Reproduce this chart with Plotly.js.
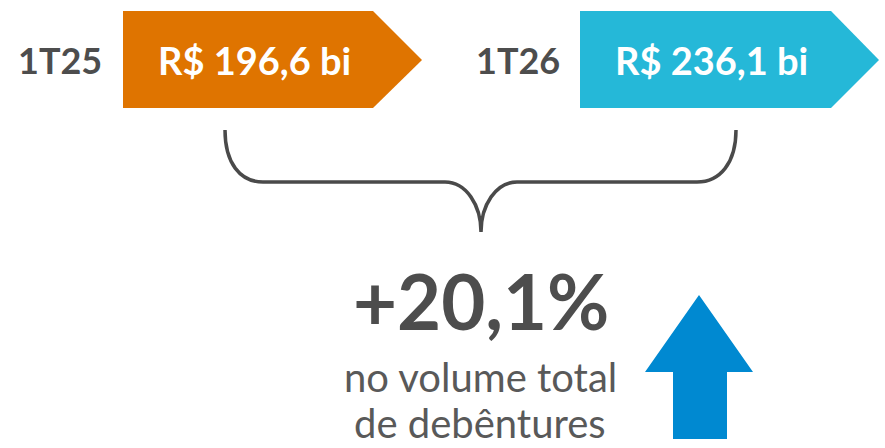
<!DOCTYPE html>
<html>
<head>
<meta charset="utf-8">
<script src="https://cdn.plot.ly/plotly-3.0.1.min.js"></script>
<style>
html,body{margin:0;padding:0;background:#ffffff;}
#chart{width:885px;height:448px;}
</style>
</head>
<body>
<div id="chart"></div>
<script>
// ---- data ----
var periods = ['1T25', '1T26'];
var volumes = [196.6, 236.1];           // R$ bilhões
var changePct = 20.1;                   // %
var captionLines = ['no volume total', 'de debêntures'];
var boxColors = ['#DF7400', '#25B8D8'];

function fmt(v) { return v.toFixed(1).replace('.', ','); }

var FONT = 'Lato, "Open Sans", sans-serif';
var DARK = '#4D4D4D';

// layout geometry (pixel-space axes)
var boxes = [
  {label: 60,  x0: 123, x1: 373, tip: 422},
  {label: 518, x0: 580, x1: 831, tip: 879}
];
var y0 = 11, y1 = 108, ym = 60;

var shapes = [];
var annotations = [];
boxes.forEach(function (b, i) {
  shapes.push({
    type: 'path', xref: 'x', yref: 'y',
    path: 'M' + b.x0 + ',' + y0 + ' L' + b.x1 + ',' + y0 + ' L' + b.tip + ',' + ym +
          ' L' + b.x1 + ',' + y1 + ' L' + b.x0 + ',' + y1 + ' Z',
    fillcolor: boxColors[i], line: {width: 0}
  });
  annotations.push({
    x: b.label, y: ym, xref: 'x', yref: 'y', showarrow: false,
    xanchor: 'center', yanchor: 'middle',
    text: '<b>' + periods[i] + '</b>',
    font: {family: FONT, size: 36, color: DARK}
  });
  annotations.push({
    x: (b.x0 + b.x1) / 2 + 6, y: ym, xref: 'x', yref: 'y', showarrow: false,
    xanchor: 'center', yanchor: 'middle',
    text: '<b>R$ ' + fmt(volumes[i]) + ' bi</b>',
    font: {family: FONT, size: 38, color: '#FFFFFF'}
  });
});

// brace
shapes.push({
  type: 'path', xref: 'x', yref: 'y',
  path: 'M225,130 C225,163 240,182 263,182 L445,182 C466,182 481,205 481,232 ' +
        'C481,205 496,182 517,182 L697,182 C720,182 736,163 736,130',
  line: {color: '#4A4A4A', width: 3.5}
});

// up arrow
shapes.push({
  type: 'path', xref: 'x', yref: 'y',
  path: 'M699,295 L753,372 L727,372 L727,439 L673,439 L673,372 L645,372 Z',
  fillcolor: '#0089D1', line: {width: 0}
});

annotations.push({
  x: 481, y: 300, xref: 'x', yref: 'y', showarrow: false,
  xanchor: 'center', yanchor: 'middle',
  text: '<b>+' + fmt(changePct) + '%</b>',
  font: {family: FONT, size: 76, color: DARK}
});
annotations.push({
  x: 480, y: 377, xref: 'x', yref: 'y', showarrow: false,
  xanchor: 'center', yanchor: 'middle',
  text: captionLines[0],
  font: {family: FONT, size: 40, color: '#595959'}
});
annotations.push({
  x: 480, y: 423, xref: 'x', yref: 'y', showarrow: false,
  xanchor: 'center', yanchor: 'middle',
  text: captionLines[1],
  font: {family: FONT, size: 40, color: '#595959'}
});

var layout = {
  width: 885, height: 448,
  margin: {l: 0, r: 0, t: 0, b: 0},
  paper_bgcolor: '#FFFFFF', plot_bgcolor: '#FFFFFF',
  showlegend: false,
  xaxis: {range: [0, 885], visible: false, fixedrange: true},
  yaxis: {range: [448, 0], visible: false, fixedrange: true},
  shapes: shapes,
  annotations: annotations
};

Plotly.newPlot('chart', [], layout, {displayModeBar: false, staticPlot: true});
</script>
</body>
</html>
